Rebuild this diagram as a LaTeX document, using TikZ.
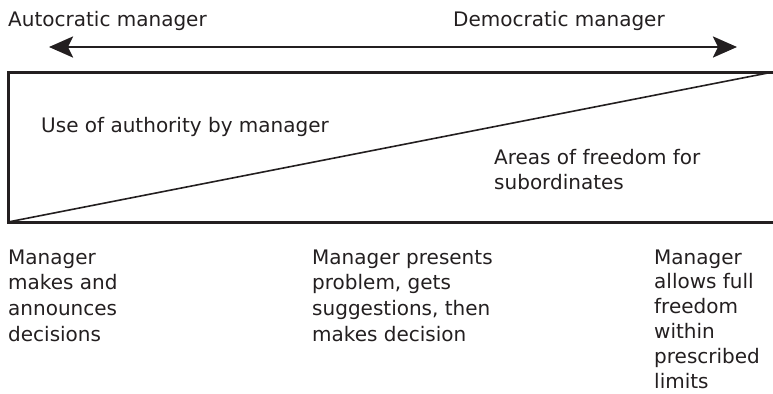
\documentclass[tikz,border=0pt]{standalone}
\usepackage{fontspec}
\setmainfont{DejaVu Sans}
\usetikzlibrary{arrows.meta}
\definecolor{ink}{HTML}{231F20}
\begin{document}
\begin{tikzpicture}[x=1bp,y=-1bp,
  lbl/.style={anchor=base west,inner sep=0pt,align=left,text=ink,
    font=\fontsize{20bp}{25.7bp}\selectfont},
  frame/.style={draw=ink,line width=3bp},
  scale arrow/.style={draw=ink,line width=2.7bp,{Stealth[length=24bp,width=21bp,inset=5bp]}-{Stealth[length=24bp,width=21bp,inset=5bp]}}]
\useasboundingbox (0,0) rectangle (773,393);
\clip (0,0) rectangle (773,393);
% header labels
\node[lbl] (auto) at (8,26.5) {Autocratic manager};
\node[lbl] (demo) at (453,26.5) {Democratic manager};
% double arrow
\coordinate (aL) at (49,47);
\coordinate (aR) at (737,47);
\draw[scale arrow] (aL) -- (aR);
% frame
\coordinate (tl) at (8,72);
\coordinate (tr) at (775,72);
\coordinate (bl) at (8,222);
\coordinate (br) at (775,222);
\draw[frame] (tr) -- (tl) -- (bl) -- (br);
\coordinate (dr) at (773,72);
\draw[draw=ink,line width=1.6bp] (bl) -- (dr);
% region labels (anchor = baseline of last line)
\node[lbl] (use) at (41,132) {Use of authority by manager};
\node[lbl] (free) at (494,189.7) {Areas of freedom for\\subordinates};
% bottom labels
\node[lbl] (left) at (8,341.1) {Manager\\makes and\\announces\\decisions};
\node[lbl] (mid) at (312,341.1) {Manager presents\\problem, gets\\suggestions, then\\makes decision};
\node[lbl,font=\fontsize{20bp}{24.8bp}\selectfont] (right) at (654,388) {Manager\\allows full\\freedom\\within\\prescribed\\limits};
\end{tikzpicture}
\end{document}
